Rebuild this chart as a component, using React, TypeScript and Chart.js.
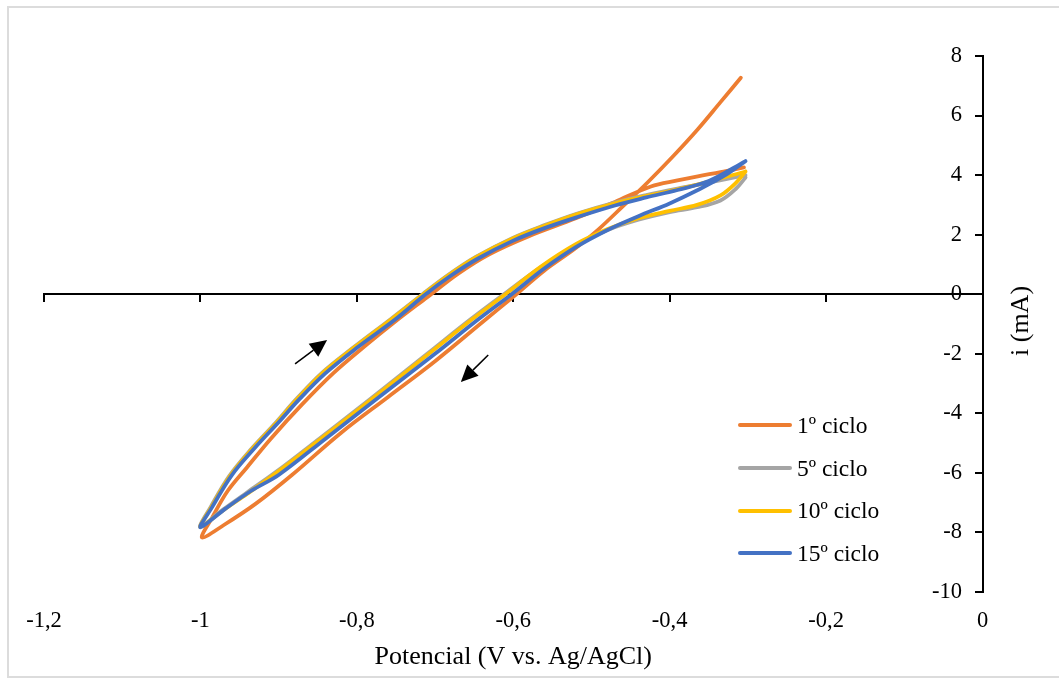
import React, { useEffect, useRef } from 'react';
import { Chart, registerables } from 'chart.js';

Chart.register(...registerables);

// ---- Data (potential in V vs. Ag/AgCl, current in mA) ----
const ciclo1V = [-0.309, -0.335, -0.364, -0.395, -0.428, -0.46, -0.491, -0.52, -0.56, -0.596, -0.64, -0.7, -0.76, -0.82, -0.883, -0.93, -0.97, -0.998, -0.985, -0.965, -0.94, -0.91, -0.87, -0.83, -0.79, -0.75, -0.71, -0.67, -0.63, -0.58, -0.52, -0.47, -0.424, -0.39, -0.364, -0.335, -0.305];
const ciclo1I = [7.27, 6.45, 5.54, 4.65, 3.76, 2.95, 2.18, 1.55, 0.8, 0.0, -0.95, -2.25, -3.45, -4.65, -6.07, -7.05, -7.75, -8.17, -7.5, -6.6, -5.8, -4.85, -3.7, -2.65, -1.75, -0.9, -0.1, 0.7, 1.35, 1.95, 2.55, 3.1, 3.62, 3.82, 3.96, 4.1, 4.26];

const ciclo5V = [-0.303, -0.315, -0.335, -0.365, -0.4, -0.44, -0.48, -0.52, -0.565, -0.612, -0.655, -0.71, -0.784, -0.848, -0.905, -0.94, -0.972, -1.0, -0.987, -0.963, -0.935, -0.905, -0.878, -0.845, -0.805, -0.756, -0.716, -0.683, -0.648, -0.6, -0.56, -0.517, -0.47, -0.43, -0.39, -0.35, -0.303];
const ciclo5I = [3.92, 3.55, 3.15, 2.92, 2.76, 2.5, 2.15, 1.65, 0.9, 0.0, -0.85, -2.0, -3.54, -4.85, -6.0, -6.65, -7.25, -7.8, -7.15, -6.1, -5.2, -4.35, -3.54, -2.65, -1.8, -0.82, 0.0, 0.65, 1.25, 1.9, 2.32, 2.72, 3.08, 3.33, 3.55, 3.75, 4.0];

const ciclo10V = [-0.303, -0.315, -0.335, -0.365, -0.4, -0.44, -0.48, -0.52, -0.565, -0.61, -0.653, -0.708, -0.782, -0.846, -0.903, -0.94, -0.972, -1.0, -0.986, -0.962, -0.934, -0.904, -0.877, -0.844, -0.804, -0.755, -0.715, -0.682, -0.647, -0.6, -0.56, -0.517, -0.47, -0.43, -0.39, -0.35, -0.303];
const ciclo10I = [4.12, 3.75, 3.32, 3.0, 2.8, 2.55, 2.18, 1.68, 0.92, 0.0, -0.85, -2.0, -3.54, -4.85, -6.0, -6.7, -7.28, -7.82, -7.15, -6.1, -5.2, -4.35, -3.54, -2.65, -1.8, -0.82, 0.0, 0.65, 1.25, 1.88, 2.3, 2.7, 3.05, 3.3, 3.52, 3.78, 4.12];

const ciclo15V = [-0.303, -0.33, -0.364, -0.4, -0.44, -0.48, -0.52, -0.56, -0.602, -0.645, -0.7, -0.776, -0.84, -0.9, -0.935, -0.968, -1.0, -0.985, -0.96, -0.93, -0.9, -0.874, -0.84, -0.8, -0.751, -0.712, -0.68, -0.645, -0.6, -0.56, -0.517, -0.47, -0.43, -0.39, -0.35, -0.303];
const ciclo15I = [4.47, 3.98, 3.5, 3.05, 2.62, 2.15, 1.58, 0.87, 0.0, -0.85, -2.0, -3.54, -4.85, -6.07, -6.6, -7.2, -7.83, -7.15, -6.08, -5.15, -4.3, -3.54, -2.65, -1.8, -0.85, 0.0, 0.62, 1.2, 1.8, 2.22, 2.6, 2.98, 3.25, 3.5, 3.8, 4.47];

const seriesLabels = ['1º ciclo', '5º ciclo', '10º ciclo', '15º ciclo'];
const seriesColors = ['#ED7D31', '#A5A5A5', '#FFC000', '#4472C4'];

const xTicks = [-1.2, -1, -0.8, -0.6, -0.4, -0.2, 0];
const yTicks = [-10, -8, -6, -4, -2, 0, 2, 4, 6, 8];

// Scan-direction arrows (data coordinates)
const arrowFromV = [-0.879, -0.632];
const arrowFromI = [-2.34, -2.04];
const arrowToV = [-0.838, -0.667];
const arrowToI = [-1.54, -2.95];

const xTitle = 'Potencial (V vs. Ag/AgCl)';
const yTitle = 'i (mA)';

const FONT = "'Liberation Serif', 'Times New Roman', serif";

const fmtX = (v: number) => String(Math.round(v * 10) / 10).replace('.', ',');

const arrowPlugin = {
  id: 'scanArrows',
  afterDatasetsDraw(chart: any) {
    const { ctx } = chart;
    const sx = chart.scales.x;
    const sy = chart.scales.y;
    for (let k = 0; k < arrowFromV.length; k++) {
      const x0 = sx.getPixelForValue(arrowFromV[k]);
      const y0 = sy.getPixelForValue(arrowFromI[k]);
      const x1 = sx.getPixelForValue(arrowToV[k]);
      const y1 = sy.getPixelForValue(arrowToI[k]);
      const ang = Math.atan2(y1 - y0, x1 - x0);
      const headLen = 17;
      const headHalf = 8;
      const bx = x1 - headLen * Math.cos(ang);
      const by = y1 - headLen * Math.sin(ang);
      ctx.save();
      ctx.strokeStyle = '#000';
      ctx.fillStyle = '#000';
      ctx.lineWidth = 1.5;
      ctx.beginPath();
      ctx.moveTo(x0, y0);
      ctx.lineTo(bx, by);
      ctx.stroke();
      ctx.beginPath();
      ctx.moveTo(x1, y1);
      ctx.lineTo(bx + headHalf * Math.sin(ang), by - headHalf * Math.cos(ang));
      ctx.lineTo(bx - headHalf * Math.sin(ang), by + headHalf * Math.cos(ang));
      ctx.closePath();
      ctx.fill();
      ctx.restore();
    }
  },
};

export default function App() {
  const canvasRef = useRef<HTMLCanvasElement | null>(null);

  useEffect(() => {
    if (!canvasRef.current) return;
    const pairs = [
      [ciclo1V, ciclo1I],
      [ciclo5V, ciclo5I],
      [ciclo10V, ciclo10I],
      [ciclo15V, ciclo15I],
    ];
    const datasets = pairs.map(([vs, is], k) => ({
      label: seriesLabels[k],
      data: vs.map((v, j) => ({ x: v, y: is[j] })),
      borderColor: seriesColors[k],
      backgroundColor: seriesColors[k],
      borderWidth: 3.8,
      pointRadius: 0,
      showLine: true,
      tension: 0.35,
      borderCapStyle: 'round',
      borderJoinStyle: 'round',
      xAxisID: 'x',
      yAxisID: 'y',
      order: 4 - k,
    }));
    const setXTicks = (s: any) => {
      s.ticks = xTicks.map((v) => ({ value: v }));
    };
    const setYTicks = (s: any) => {
      s.ticks = yTicks.map((v) => ({ value: v }));
    };
    const chart = new Chart(canvasRef.current, {
      type: 'scatter',
      data: { datasets: datasets as any },
      plugins: [arrowPlugin],
      options: {
        animation: false,
        responsive: true,
        maintainAspectRatio: false,
        layout: { padding: { left: 44, top: 56, right: 76.5, bottom: 0 } },
        plugins: {
          legend: { display: false },
          tooltip: { enabled: false },
        },
        scales: {
          x: {
            type: 'linear',
            position: { y: 0 } as any,
            min: -1.2,
            max: 0,
            afterBuildTicks: setXTicks,
            ticks: { display: false },
            grid: { display: true, drawOnChartArea: false, drawTicks: true, tickLength: 7, color: '#000', lineWidth: 2 },
            border: { display: true, color: '#000', width: 2 },
          },
          x2: {
            type: 'linear',
            position: 'bottom',
            min: -1.2,
            max: 0,
            afterBuildTicks: setXTicks,
            afterFit: (s: any) => {
              s.height = 88;
            },
            ticks: {
              display: true,
              padding: 16,
              color: '#000',
              font: { family: FONT, size: 22.5 },
              maxRotation: 0,
              autoSkip: false,
              callback: (v: any) => fmtX(Number(v)),
            },
            grid: { display: false, drawTicks: false },
            border: { display: false },
            title: {
              display: true,
              text: xTitle,
              color: '#000',
              font: { family: FONT, size: 26 },
              padding: { top: 0, bottom: 7 },
            },
          },
          y: {
            type: 'linear',
            position: { x: 0 } as any,
            min: -10,
            max: 8,
            afterBuildTicks: setYTicks,
            ticks: { display: false },
            grid: { display: true, drawOnChartArea: false, drawTicks: true, tickLength: 7, color: '#000', lineWidth: 2 },
            border: { display: true, color: '#000', width: 2 },
          },
          y2: {
            type: 'linear',
            position: 'right',
            min: -10,
            max: 8,
            afterBuildTicks: setYTicks,
            afterFit: (s: any) => {
              s.width = 0;
            },
            ticks: {
              display: true,
              mirror: true,
              crossAlign: 'near',
              padding: -20.5,
              color: '#000',
              font: { family: FONT, size: 22.5 },
              callback: (v: any) => String(v),
            },
            grid: { display: false, drawTicks: false },
            border: { display: false },
          },
        },
      } as any,
    });
    return () => chart.destroy();
  }, []);

  const legendTop = [425, 468, 510.5, 553];

  return (
    <div style={{ position: 'absolute', left: 0, top: 0, width: 1059, height: 680, background: '#fff', overflow: 'hidden' }}>
      <div
        style={{
          position: 'absolute',
          left: 7,
          top: 6,
          width: 1070,
          height: 672,
          boxSizing: 'border-box',
          border: '2px solid #dcdcdc',
        }}
      />
      <div style={{ position: 'absolute', left: 0, top: 0, width: 1059, height: 680 }}>
        <canvas ref={canvasRef} />
      </div>
      {seriesLabels.map((lab, k) => (
        <div
          key={lab}
          style={{
            position: 'absolute',
            left: 738,
            top: legendTop[k] - 15,
            height: 30,
            display: 'flex',
            alignItems: 'center',
            fontFamily: FONT,
            fontSize: 23.5,
            color: '#000',
            whiteSpace: 'nowrap',
          }}
        >
          <div style={{ width: 54, height: 4, borderRadius: 2, background: seriesColors[k], marginRight: 5 }} />
          <span>{lab}</span>
        </div>
      ))}
      <div
        style={{
          position: 'absolute',
          left: 1020,
          top: 321,
          transform: 'translate(-50%, -50%) rotate(-90deg)',
          fontFamily: FONT,
          fontSize: 26,
          color: '#000',
          whiteSpace: 'nowrap',
          lineHeight: 1,
        }}
      >
        {yTitle}
      </div>
    </div>
  );
}
